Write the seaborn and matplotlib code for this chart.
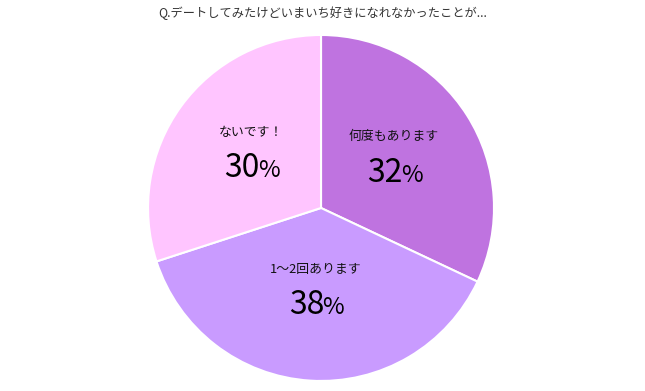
import numpy as np
import matplotlib
matplotlib.use('Agg')
import matplotlib.pyplot as plt
import seaborn as sns

# data
title = "Q.デートしてみたけどいまいち好きになれなかったことが..."
labels = ["何度もあります", "1〜2回あります", "ないです！"]
values = [32, 38, 30]
colors = ["#BF73E0", "#C99BFF", "#FFC5FF"]

sns.set_style("white")
plt.rcParams['font.family'] = ['Noto Sans CJK JP', 'DejaVu Sans']

fig = plt.figure(figsize=(6.45, 3.91), dpi=100)
ax = fig.add_axes([0.2295, 0.0256, 0.5364, 0.885])

wedges, _ = ax.pie(values, colors=colors, startangle=90, counterclock=False,
                   radius=1.0, wedgeprops=dict(edgecolor="white", linewidth=1.5))
ax.set_xlim(-1, 1)
ax.set_ylim(-1, 1)
ax.set_aspect('equal')

total = sum(values)
for w, lab, v in zip(wedges, labels, values):
    ang = np.deg2rad((w.theta1 + w.theta2) / 2)
    x, y = 0.5 * np.cos(ang), 0.5 * np.sin(ang) + 0.05
    ax.text(x, y + 0.093, lab, ha='center', va='center', fontsize=9.3, color='#111111')
    ax.text(x + 0.05, y - 0.165, f"{round(v / total * 100)}", ha='right', va='baseline',
            fontsize=23, color='black')
    ax.text(x + 0.04, y - 0.165, "%", ha='left', va='baseline', fontsize=17, color='black')

fig.text(0.5, 0.967, title, ha='center', va='center', fontsize=8.8, color='#333333')

fig.savefig("out.png", dpi=100)
